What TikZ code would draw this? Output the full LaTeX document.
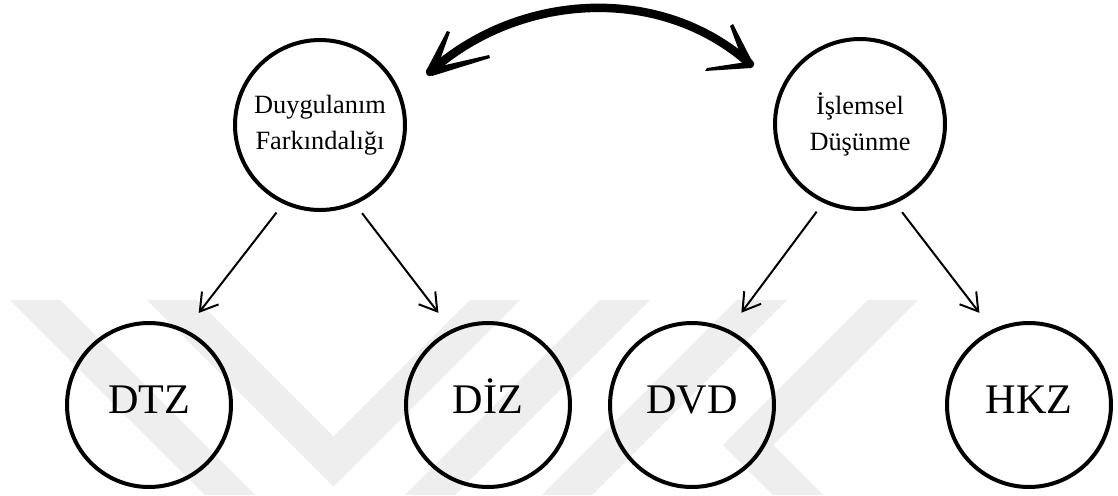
\documentclass[tikz,border=0pt]{standalone}
\usepackage{fontspec}
\setmainfont{Liberation Serif}
\usetikzlibrary{arrows.meta}
\definecolor{wm}{gray}{0.935}
\tikzset{
  topcirc/.style={circle, draw, line width=0.08cm, minimum size=3.40cm, inner sep=0pt, align=center,
    font=\fontsize{15pt}{20.5pt}\selectfont},
  botcirc/.style={circle, draw, line width=0.08cm, minimum size=3.28cm, inner sep=0pt,
    text height=0.56cm, text depth=0.24cm,
    font=\fontsize{24pt}{28pt}\selectfont},
  link/.style={line width=0.04cm, -{Straight Barb[length=0.34cm, width=0.42cm]},
    shorten <=0.22cm, shorten >=0.42cm},
  band/.style={wm, line width=0.71cm, line join=miter},
  brush/.style={line width=0.17cm, line cap=round}
}
\begin{document}
\begin{tikzpicture}[x=0.02cm, y=-0.02cm]
\useasboundingbox (0,0) rectangle (1118,495);
% watermark
\begin{scope}
  \clip (0,300) rectangle (1118,494);
  \draw[band] (15,280) -- (255,520);
  \draw[band] (152,280) -- (333.5,461.5) -- (515,280);
  \draw[band] (645,280) -- (405,520);
  \draw[band] (782,280) -- (542,520);
  \draw[band] (913,280) -- (748,445) -- (823,520);
\end{scope}
% nodes
\node[topcirc] (fa) at (320,125) {Duygulanım\\Farkındalığı};
\node[topcirc] (id) at (860,124) {İşlemsel\\Düşünme};
\node[botcirc] (dtz) at (149,405) {DTZ};
\node[botcirc] (diz) at (488,405) {DİZ};
\node[botcirc] (dvd) at (692,405) {DVD};
\node[botcirc] (hkz) at (1029,405) {HKZ};
% connectors
\draw[link] (fa.-115) -- (dtz.64);
\draw[link] (fa.-66) -- (diz.116);
\draw[link] (id.-115) -- (dvd.64);
\draw[link] (id.-66) -- (hkz.116);
% brush double arrow between top circles
\coordinate (lt) at (430,72);
\coordinate (rt) at (750,64);
\draw[brush] (lt) .. controls (519,-8) and (661,-16) .. (rt);
\fill (426,71) -- (447,31) -- (450,32) -- (435,74) -- cycle;
\fill (428,69) -- (489,55) -- (490,58) -- (432,76) -- cycle;
\fill (754,65) -- (733,24) -- (730,26) -- (745,67) -- cycle;
\fill (753,61) -- (707,68) -- (705,71) -- (751,68) -- cycle;
\end{tikzpicture}
\end{document}
